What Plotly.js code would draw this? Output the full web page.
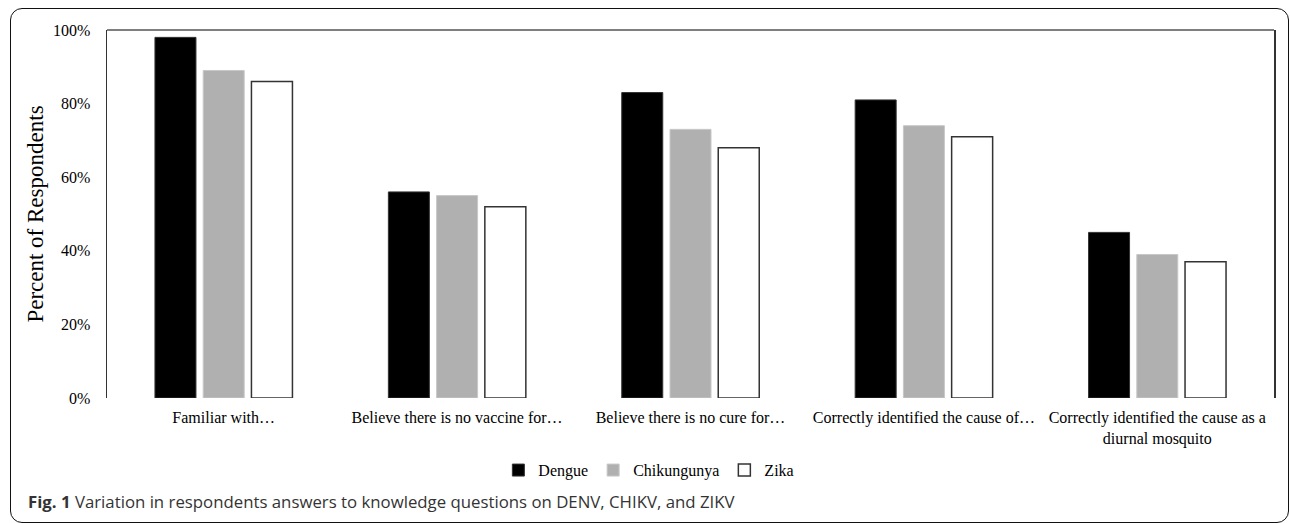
<!DOCTYPE html>
<html>
<head>
<meta charset="utf-8">
<script src="https://cdn.plot.ly/plotly-3.0.1.min.js"></script>
<style>
  html, body { margin: 0; padding: 0; background: #fff; }
  #wrap { position: relative; width: 1290px; height: 523px; }
  #chart { width: 1290px; height: 523px; }
  #frame { position: absolute; left: 10px; top: 8px; width: 1279px; height: 515px;
           box-sizing: border-box; border: 1.5px solid #111; border-radius: 12px; pointer-events: none; }
</style>
</head>
<body>
<div id="wrap">
  <div id="chart"></div>
  <div id="frame"></div>
</div>
<script>
const categories = [
  "Familiar with…",
  "Believe there is no vaccine for…",
  "Believe there is no cure for…",
  "Correctly identified the cause of…",
  "Correctly identified the cause as a<br>diurnal mosquito"
];
const dengue = [98, 56, 83, 81, 45];
const chikungunya = [89, 55, 73, 74, 39];
const zika = [86, 52, 68, 71, 37];
const yTickVals = [0, 20, 40, 60, 80, 100];
const yTickText = ["0%", "20%", "40%", "60%", "80%", "100%"];
const seriesNames = ["Dengue", "Chikungunya", "Zika"];
const captionBold = "Fig. 1";
const captionText = "Variation in respondents answers to knowledge questions on DENV, CHIKV, and ZIKV";

const serif = "Liberation Serif, Times New Roman, serif";

const traces = [
  { type: "bar", name: seriesNames[0], x: categories, y: dengue,
    marker: { color: "#000000", line: { color: "#333333", width: 1 } } },
  { type: "bar", name: seriesNames[1], x: categories, y: chikungunya,
    marker: { color: "#b0b0b0", line: { color: "#c8c8c8", width: 1 } } },
  { type: "bar", name: seriesNames[2], x: categories, y: zika,
    marker: { color: "#ffffff", line: { color: "#333333", width: 1.5 } } }
];

const layout = {
  width: 1290, height: 523,
  margin: { l: 107, r: 16, t: 30, b: 125 },
  paper_bgcolor: "#ffffff", plot_bgcolor: "#ffffff",
  font: { family: serif, size: 16, color: "#000" },
  barmode: "group",
  bargap: 0.38,
  bargroupgap: 0.15,
  showlegend: true,
  legend: {
    orientation: "h", xref: "container", yref: "container",
    x: 0.503, xanchor: "center", y: 0.101, yanchor: "middle",
    font: { family: serif, size: 16, color: "#000" },
    itemwidth: 30, traceorder: "normal"
  },
  xaxis: {
    type: "category", showline: false, showgrid: false, zeroline: false,
    ticks: "", ticklabelstandoff: 8, tickangle: 0,
    tickfont: { family: serif, size: 16, color: "#000" }
  },
  yaxis: {
    range: [0, 100], tickvals: yTickVals, ticktext: yTickText,
    showgrid: false, zeroline: false, showline: true, mirror: true,
    linecolor: "#333333", linewidth: 1.5,
    ticks: "", ticklabelstandoff: 12,
    tickfont: { family: serif, size: 16, color: "#000" },
    title: { text: "Percent of Respondents", font: { family: serif, size: 23, color: "#000" }, standoff: 3 }
  },
  shapes: [
    { type: "line", xref: "paper", yref: "paper", x0: 0, x1: 1, y0: 1, y1: 1,
      line: { color: "#555555", width: 1.5 } }
  ],
  annotations: [
    { xref: "paper", yref: "paper", x: -0.0694, y: -0.28, xanchor: "left", yanchor: "middle",
      showarrow: false, align: "left",
      text: "<b>" + captionBold + "</b> " + captionText,
      font: { family: "Open Sans, Noto Sans, sans-serif", size: 16.8, color: "#333333" } }
  ]
};

Plotly.newPlot("chart", traces, layout, { displayModeBar: false, staticPlot: true });
</script>
</body>
</html>
